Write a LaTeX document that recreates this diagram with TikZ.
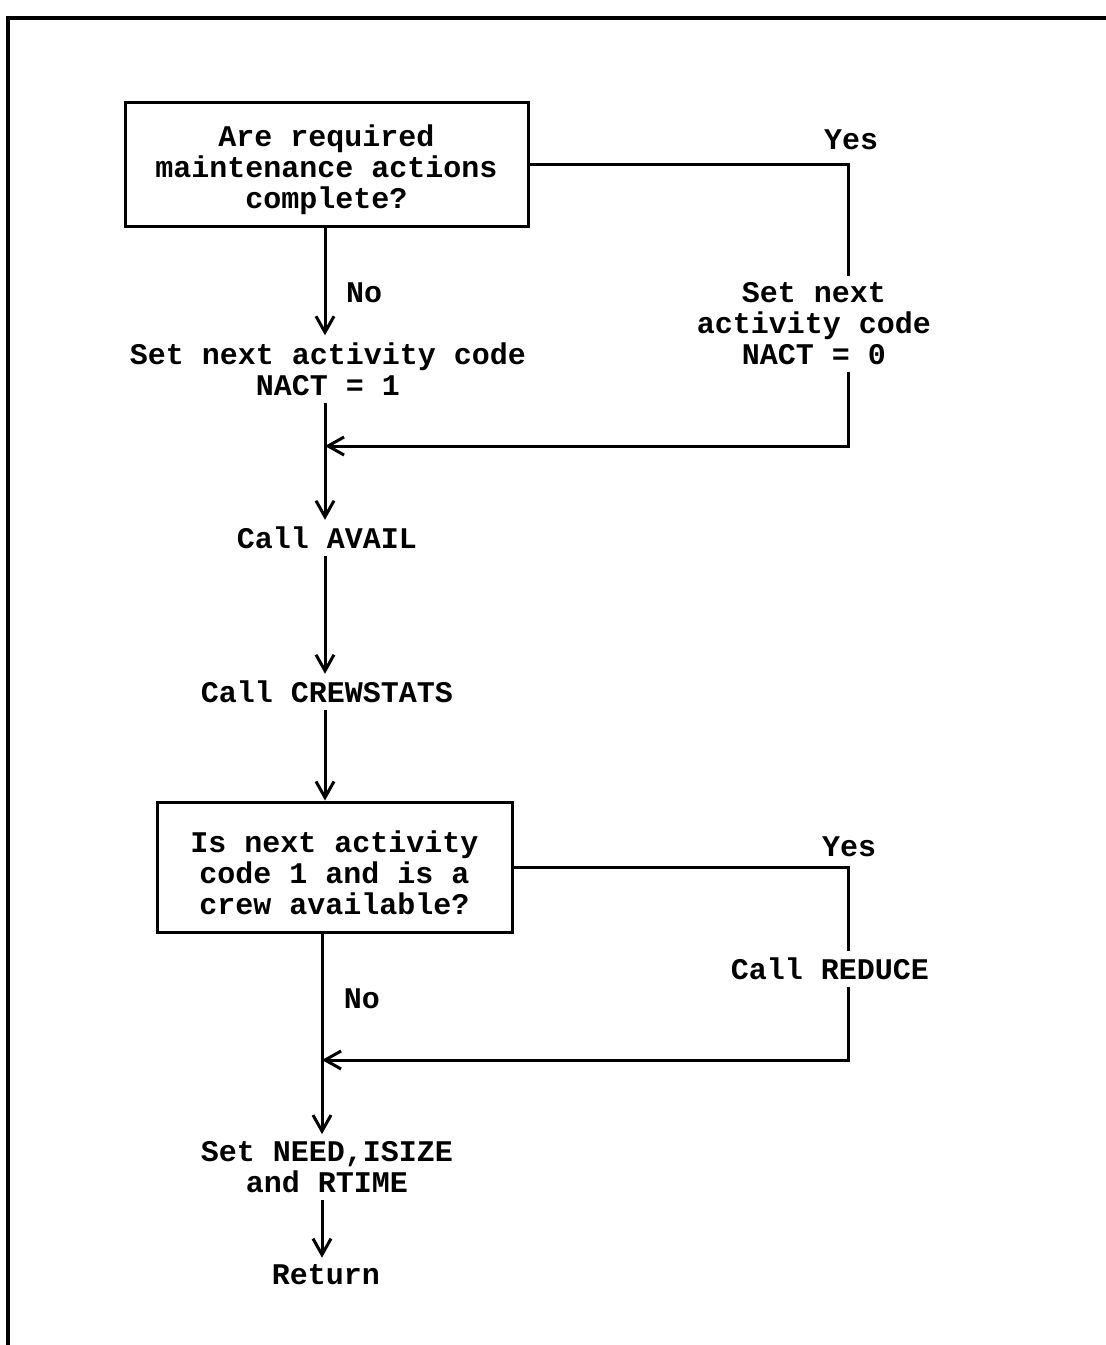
\documentclass[tikz,border=0pt]{standalone}
\usepackage{fontspec}
\newfontfamily\tw{Liberation Mono}
\usetikzlibrary{arrows.meta}
\newcommand\boxtext[2]{\begin{tabular}{@{}c@{}}\rule{0pt}{#1}#2\end{tabular}}
\begin{document}
\begin{tikzpicture}[x=1pt,y=-1pt,
  every node/.style={font=\tw\bfseries\fontsize{30}{31}\selectfont, align=center},
  lbl/.style={inner sep=7pt},
  qbox/.style={draw, line width=3pt, inner sep=0pt},
  conn/.style={line width=3pt},
  arr/.style={conn, -{Straight Barb[length=16pt,width=18pt,line width=3pt]}}]
\useasboundingbox (0,0) rectangle (1106,1345);
% frame
\draw[line width=3.2pt] (8,1345) -- (8,18) -- (1106,18);
% nodes
\node[qbox, minimum width=403pt, minimum height=124pt] (q1) at (326.5,164) {\boxtext{36pt}{Are required\\maintenance actions\\complete?}};
\node[lbl] (set1) at (328,369) {Set next activity code\\NACT = 1};
\node[lbl] (set0) at (814,324) {Set next\\activity code\\NACT = 0};
\node[lbl] (avail) at (327,538) {Call AVAIL};
\node[lbl] (crew) at (327,692) {Call CREWSTATS};
\node[qbox, minimum width=355pt, minimum height=130pt] (q2) at (334.5,867) {\boxtext{42pt}{Is next activity\\code 1 and is a\\crew available?}};
\node[lbl] (reduce) at (830,969) {Call REDUCE};
\node[lbl] (setn) at (327,1167) {Set NEED,ISIZE\\and RTIME};
\node[lbl] (ret) at (326,1275) {Return};
\node (yes1) at (851,140) {Yes};
\node (no1) at (364,293) {No};
\node (yes2) at (849,847) {Yes};
\node (no2) at (362,999) {No};
% coordinates
\coordinate (r1) at (848,0);
\coordinate (m1) at (325,446);
\coordinate (m2) at (322,1060);
% connectors
\draw[conn] (q1.east) -| (r1 |- set0.north);
\draw[arr] (r1 |- set0.south) |- (m1);
\draw[arr] (q1.south -| m1) -- (set1.north -| m1);
\draw[arr] (set1.south -| m1) -- (avail.north -| m1);
\draw[arr] (avail.south -| m1) -- (crew.north -| m1);
\draw[arr] (crew.south -| m1) -- (q2.north -| m1);
\draw[conn] (q2.east) -| (r1 |- reduce.north);
\draw[arr] (r1 |- reduce.south) |- (m2);
\draw[arr] (q2.south -| m2) -- (setn.north -| m2);
\draw[arr] (setn.south -| m2) -- (ret.north -| m2);
\end{tikzpicture}
\end{document}
